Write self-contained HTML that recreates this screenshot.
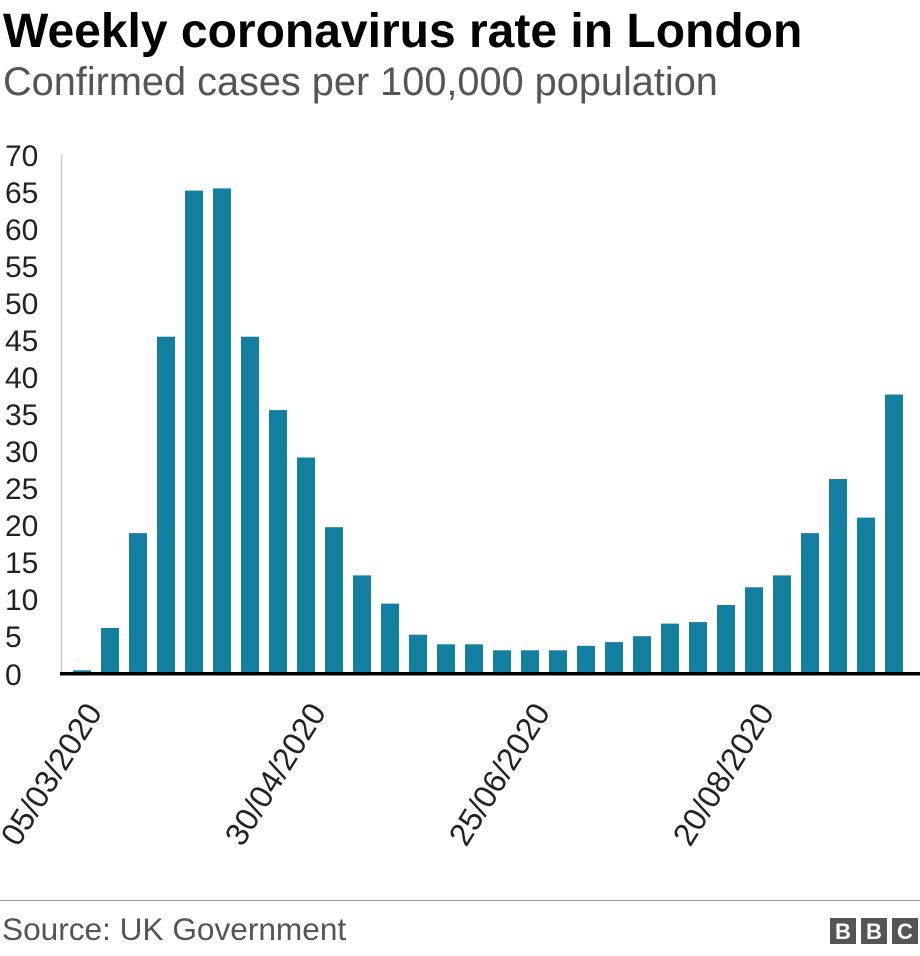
<!DOCTYPE html>
<html><head><style>
body{margin:0;background:#fff;}
svg{display:block;font-family:"Liberation Sans",Arial,sans-serif;}
</style></head><body>
<svg width="920" height="956" viewBox="0 0 920 956">
<text x="3" y="47" font-size="48" font-weight="bold" fill="#000">Weekly coronavirus rate in London</text>
<text x="3" y="95" font-size="39.7" fill="#555">Confirmed cases per 100,000 population</text>
<line x1="61.5" y1="155" x2="61.5" y2="674" stroke="#ccc" stroke-width="1.5"/>
<g font-size="30" fill="#222">
<text x="5" y="166">70</text><text x="5" y="203">65</text><text x="5" y="240">60</text><text x="5" y="277">55</text>
<text x="5" y="314">50</text><text x="5" y="351">45</text><text x="5" y="388">40</text><text x="5" y="425">35</text>
<text x="5" y="462">30</text><text x="5" y="499">25</text><text x="5" y="536">20</text><text x="5" y="573">15</text>
<text x="5" y="610">10</text><text x="5" y="647">5</text><text x="5" y="685">0</text>
</g>
<g fill="#1380a1">
<rect x="73" y="670.3" width="18" height="3.7"/>
<rect x="101" y="628" width="18" height="46"/>
<rect x="129" y="533.1" width="18" height="140.9"/>
<rect x="157" y="336.7" width="18" height="337.3"/>
<rect x="185" y="190.6" width="18" height="483.4"/>
<rect x="213" y="188.4" width="18" height="485.6"/>
<rect x="241" y="336.7" width="18" height="337.3"/>
<rect x="269" y="410.1" width="18" height="263.9"/>
<rect x="297" y="457.5" width="18" height="216.5"/>
<rect x="325" y="527.2" width="18" height="146.8"/>
<rect x="353" y="575.4" width="18" height="98.6"/>
<rect x="381" y="603.6" width="18" height="70.4"/>
<rect x="409" y="634.7" width="18" height="39.3"/>
<rect x="437" y="644.3" width="18" height="29.7"/>
<rect x="465" y="644.3" width="18" height="29.7"/>
<rect x="493" y="650.3" width="18" height="23.7"/>
<rect x="521" y="650.3" width="18" height="23.7"/>
<rect x="549" y="650.3" width="18" height="23.7"/>
<rect x="577" y="645.8" width="18" height="28.2"/>
<rect x="605" y="642.1" width="18" height="31.9"/>
<rect x="633" y="636.2" width="18" height="37.8"/>
<rect x="661" y="623.6" width="18" height="50.4"/>
<rect x="689" y="622.1" width="18" height="51.9"/>
<rect x="717" y="605" width="18" height="69"/>
<rect x="745" y="587.3" width="18" height="86.7"/>
<rect x="773" y="575.4" width="18" height="98.6"/>
<rect x="801" y="533.1" width="18" height="140.9"/>
<rect x="829" y="479" width="18" height="195"/>
<rect x="857" y="517.6" width="18" height="156.4"/>
<rect x="885" y="394.5" width="18" height="279.5"/>
</g>
<rect x="60" y="672" width="860" height="3.5" fill="#000"/>
<g font-size="32" fill="#222">
<text transform="translate(103,712) rotate(-58)" text-anchor="end">05/03/2020</text>
<text transform="translate(327,712) rotate(-58)" text-anchor="end">30/04/2020</text>
<text transform="translate(551,712) rotate(-58)" text-anchor="end">25/06/2020</text>
<text transform="translate(775,712) rotate(-58)" text-anchor="end">20/08/2020</text>
</g>
<line x1="0" y1="900.5" x2="920" y2="900.5" stroke="#999" stroke-width="1"/>
<text x="2" y="940" font-size="31.6" fill="#555">Source: UK Government</text>
<g fill="#555">
<rect x="830" y="918" width="26" height="26"/><rect x="861" y="918" width="26" height="26"/><rect x="892" y="918" width="26" height="26"/>
</g>
<g fill="#fff" font-size="22" font-weight="bold" text-anchor="middle">
<text x="843" y="939">B</text><text x="874" y="939">B</text><text x="905" y="939">C</text>
</g>
</svg>
</body></html>
